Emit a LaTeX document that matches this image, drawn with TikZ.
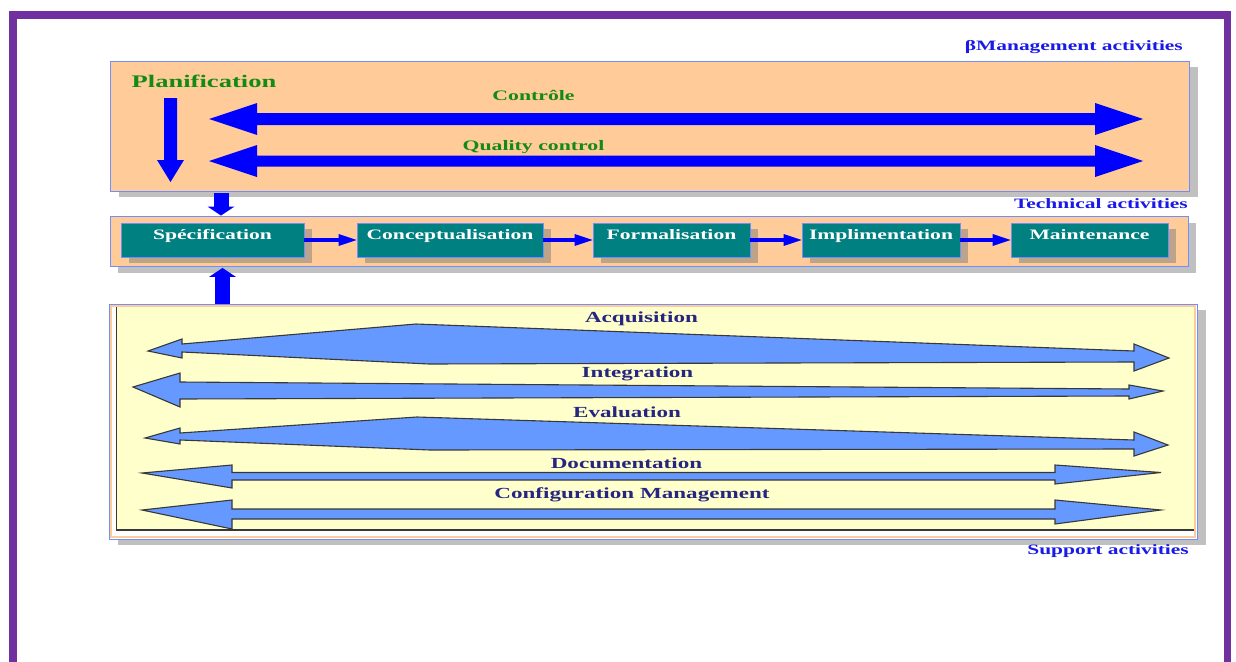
\documentclass[tikz,border=0pt]{standalone}
\usepackage{fontspec}
\setmainfont{Liberation Serif}
\newfontfamily\widefont[FakeStretch=1.5]{Liberation Serif}
\usetikzlibrary{arrows.meta,shadows}
\definecolor{frameviolet}{HTML}{7030A0}
\definecolor{peach}{HTML}{FFCC99}
\definecolor{paleyellow}{HTML}{FFFFCC}
\definecolor{edgeblue}{HTML}{6F8FFF}
\definecolor{tealbox}{HTML}{008080}
\definecolor{tanshadow}{HTML}{BCA38A}
\definecolor{greyshadow}{HTML}{C0C0C0}
\definecolor{strongblue}{HTML}{0000FF}
\definecolor{lightarrow}{HTML}{6699FF}
\definecolor{titleblue}{HTML}{1A1AE8}
\definecolor{labelgreen}{HTML}{138A13}
\definecolor{labelnavy}{HTML}{262680}
\definecolor{darkrule}{HTML}{383838}

\begin{document}
\begin{tikzpicture}[x=1pt,y=-1pt,
  band/.style={draw=edgeblue, line width=0.9pt, fill=peach, inner sep=0pt},
  greyshade/.style={drop shadow={shadow xshift=9pt, shadow yshift=-6pt, fill=greyshadow, opacity=1}},
  taskbox/.style={draw=edgeblue, line width=0.8pt, fill=tealbox, inner sep=0pt,
    minimum height=34pt, text=white,
    font=\widefont\bfseries\fontsize{14.4pt}{14.4pt}\selectfont,
    text height=9pt, text depth=11pt,
    drop shadow={shadow xshift=8pt, shadow yshift=-6pt, fill=tanshadow, opacity=1}},
  heading/.style={anchor=base east, inner sep=0pt, text=titleblue,
    font=\widefont\bfseries\fontsize{14.3pt}{14.3pt}\selectfont},
  mgmtlabel/.style={anchor=base, inner sep=0pt, text=labelgreen,
    font=\widefont\bfseries\fontsize{14.5pt}{14.5pt}\selectfont},
  supportlabel/.style={anchor=base, inner sep=0pt, text=labelnavy,
    font=\widefont\bfseries\fontsize{15.4pt}{15.4pt}\selectfont},
  bigarrow/.style={fill=strongblue},
  flow/.style={draw=strongblue, line width=4.5pt,
    -{Triangle[length=18pt,width=12pt,line width=0pt]}},
  feed/.style={draw=strongblue, line width=15pt,
    -{Triangle[length=9pt,width=27pt,line width=0pt]}},
  lane/.style={fill=lightarrow, draw=darkrule, line width=1.1pt, line join=miter}
]
\useasboundingbox (0,0) rectangle (1236,661);
\clip (0,0) rectangle (1236,661);
\fill[white] (0,0) rectangle (1236,661);

% outer violet frame
\draw[frameviolet, line width=7.5pt] (13,15) rectangle (1227.5,700);

% ---------- management band ----------
\node[band, greyshade, minimum width=1079pt, minimum height=130pt] (mgmt) at (649.5,126) {};
\node[anchor=base, inner sep=0pt, text=labelgreen,
  font=\widefont\bfseries\fontsize{17.7pt}{17.7pt}\selectfont] (plan) at (204,88) {Planification};
\fill[bigarrow] (164,98) -- (177,98) -- (177,160) -- (184,160) -- (170.5,182)
  -- (157,160) -- (164,160) -- cycle;
\fill[bigarrow] (209,119) -- (257,103) -- (257,113) -- (1095,113) -- (1095,103)
  -- (1143,119) -- (1095,135) -- (1095,125) -- (257,125) -- (257,135) -- cycle;
\fill[bigarrow] (209,161) -- (257,145) -- (257,155.5) -- (1095,155.5) -- (1095,145)
  -- (1143,161) -- (1095,177) -- (1095,166.5) -- (257,166.5) -- (257,177) -- cycle;
\node[mgmtlabel] (ctl) at (533.5,100) {Contrôle};
\node[mgmtlabel] (qc) at (533.5,150) {Quality control};
\node[heading] (mhead) at (1183,51) {βManagement activities};

% ---------- technical band ----------
\node[heading] (thead) at (1188,208) {Technical activities};
\node[band, drop shadow={shadow xshift=8pt, shadow yshift=-7pt, fill=greyshadow, opacity=1},
  minimum width=1078pt, minimum height=50pt] (tech) at (649,241) {};
\node[taskbox, minimum width=183pt] (spec) at (212.5,240) {Spécification};
\node[taskbox, minimum width=186pt] (conc) at (450,240) {Conceptualisation};
\node[taskbox, minimum width=157pt] (form) at (671.5,240) {Formalisation};
\node[taskbox, minimum width=158pt] (impl) at (881,240) {Implimentation};
\node[taskbox, minimum width=157pt] (maint) at (1089.5,240) {Maintenance};
\draw[flow] (spec.east) -- (conc.west);
\draw[flow] (conc.east) -- (form.west);
\draw[flow] (form.east) -- (impl.west);
\draw[flow] (impl.east) -- (maint.west);

% ---------- support band ----------
\node[draw=edgeblue, line width=0.9pt, fill=white, inner sep=0pt,
  drop shadow={shadow xshift=9pt, shadow yshift=-6pt, fill=greyshadow, opacity=1},
  minimum width=1088pt, minimum height=235pt] (supp) at (653,421.5) {};
\draw[peach, line width=1.5pt] (110.8,305.8) rectangle (1195.2,537.2);
\fill[paleyellow] (116,306.6) rectangle (1194.4,530);
\draw[darkrule, line width=1.6pt] (116.5,307) -- (116.5,530.2) -- (1194,530.2);
\node[heading] (shead) at (1189,554) {Support activities};

% acquisition
\draw[lane] (148,351) -- (182,339) -- (182,344) -- (416,324) -- (1134,351) -- (1134,344)
  -- (1169,358) -- (1134,371) -- (1134,362) -- (429,364) -- (182,352) -- (182,358) -- cycle;
% integration
\draw[lane] (133,387) -- (180,373) -- (180,382) -- (1129,389) -- (1129,385)
  -- (1163,391) -- (1129,399) -- (1129,396) -- (180,399) -- (180,407) -- cycle;
% evaluation
\draw[lane] (145,438) -- (180,428) -- (180,433) -- (417,417) -- (1134,440) -- (1134,432)
  -- (1168,445) -- (1134,456) -- (1134,449) -- (430,450) -- (180,440) -- (180,444) -- cycle;
% documentation
\draw[lane] (142,473) -- (232,465) -- (232,472.5) -- (1055,472.5) -- (1055,465)
  -- (1161,472.5) -- (1055,484) -- (1055,480) -- (232,480) -- (232,488) -- cycle;
% configuration management
\draw[lane] (142,510) -- (232,500) -- (232,509) -- (1055,509) -- (1055,500)
  -- (1161,510) -- (1055,524) -- (1055,519) -- (232,519) -- (232,529) -- cycle;

\node[supportlabel] (acq) at (641.5,322) {Acquisition};
\node[supportlabel] (integ) at (637.5,377) {Integration};
\node[supportlabel] (evalu) at (627,417) {Evaluation};
\node[supportlabel] (docu) at (626.5,468) {Documentation};
\node[supportlabel] (conf) at (632,498) {Configuration Management};

% feeds between the bands
\coordinate (downx) at (221,0);
\coordinate (upx) at (222.5,0);
\draw[feed] (downx |- mgmt.south) ++(0,2) -- (downx |- tech.north);
\draw[feed, shorten >=1.5pt] (upx |- supp.north) -- (upx |- tech.south);
\end{tikzpicture}
\end{document}
